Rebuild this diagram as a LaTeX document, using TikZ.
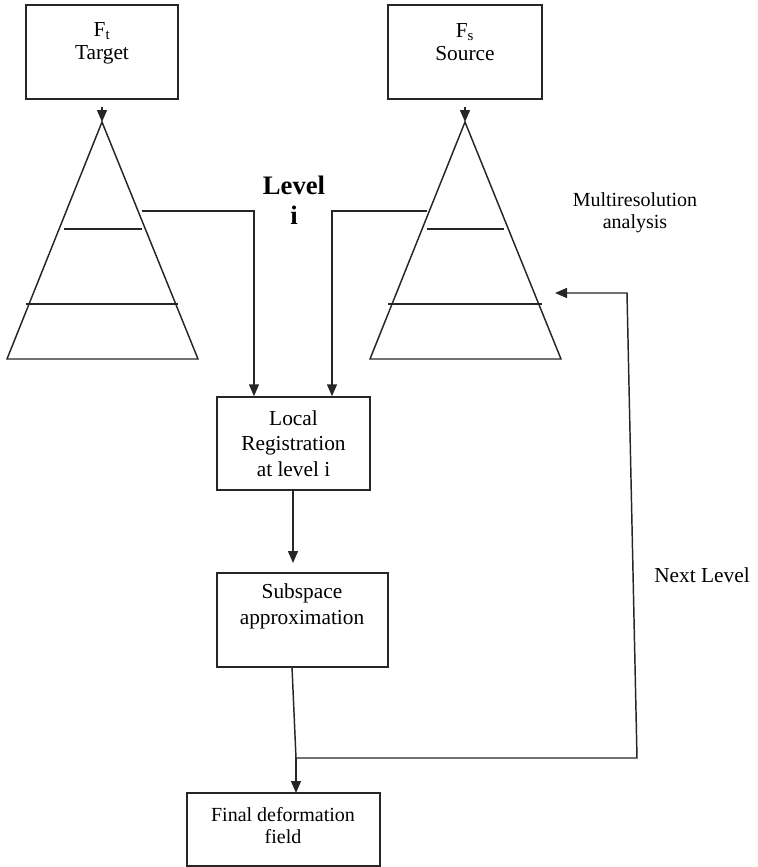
\documentclass[tikz,border=0pt]{standalone}
\usepackage{fontspec}
\setmainfont{Liberation Serif}
\usetikzlibrary{arrows.meta}
\begin{document}
\begin{tikzpicture}[x=0.75pt,y=-0.75pt,
  ln/.style={line width=1.1pt,draw=black!85},
  arr/.style={ln,-{Triangle[length=9pt,width=7.5pt]}},
  boxnode/.style={draw,ln,inner sep=0pt,align=center,font=\fontsize{16}{19}\selectfont},
  txt/.style={inner sep=0pt,align=center,font=\fontsize{16}{17.5}\selectfont}]
\useasboundingbox (0,0) rectangle (757,867);
% boxes
\node[boxnode,minimum width=114pt,minimum height=70.5pt] (tgt) at (102,52) {};
\node[txt] (tgttxt) at (102,43) {F\textsubscript{t}\\Target};
\node[boxnode,minimum width=115.5pt,minimum height=70.5pt] (src) at (465,52) {};
\node[txt] (srctxt) at (465,42) {F\textsubscript{s}\\Source};
\node[boxnode,minimum width=114.75pt,minimum height=69.75pt] (lreg) at (293.5,443.5) {Local\\Registration\\at level i};
\node[boxnode,minimum width=128.25pt,minimum height=70.5pt] (sub) at (302.5,620) {};
\node[txt,font=\fontsize{16}{19.5}\selectfont] (subtxt) at (302,606) {Subspace\\approximation};
\node[boxnode,minimum width=144.75pt,minimum height=54.75pt] (fin) at (283.5,829.5) {};
\node[txt,font=\fontsize{15}{17}\selectfont] (fintxt) at (283,825.5) {Final deformation\\field};
% labels
\node[txt,font=\fontsize{20}{22.5}\selectfont\bfseries] (lvl) at (294,200) {Level\\i};
\node[txt,font=\fontsize{15}{16.5}\selectfont] (mra) at (635,213) {Multiresolution\\analysis};
\node[txt] (nxt) at (702,575) {Next Level};
% pyramids
\coordinate (ta) at (102,122);
\coordinate (tbl) at (7,359);
\coordinate (tbr) at (198,359);
\coordinate (sa) at (465,122);
\coordinate (sbl) at (370,359);
\coordinate (sbr) at (561,359);
\draw[ln] (ta) -- (tbr) -- (tbl) -- cycle;
\draw[ln] (64,229) -- (142,229);
\draw[ln] (26,304) -- (178,304);
\draw[ln] (sa) -- (sbr) -- (sbl) -- cycle;
\draw[ln] (427,229) -- (504,229);
\draw[ln] (388,304) -- (542,304);
% arrows into apexes
\coordinate (ts) at (102,107);
\coordinate (ss) at (465,107);
\draw[arr] (ts) -- (ta);
\draw[arr] (ss) -- (sa);
% connectors to local registration
\coordinate (tl) at (142,211);
\coordinate (sl) at (427,211);
\draw[arr] (tl) -- (254,211) -- (lreg.north -| 254,0);
\draw[arr] (sl) -- (332,211) -- (lreg.north -| 332,0);
% local -> subspace
\coordinate (lb) at (293,490);
\coordinate (st) at (293,563);
\draw[arr] (lb) -- (st);
% subspace -> final, feedback
\coordinate (sb) at (292,667);
\coordinate (j) at (296,758);
\coordinate (ft) at (296,793);
\coordinate (fr) at (637,758);
\coordinate (fu) at (627,293);
\coordinate (fe) at (555,293);
\draw[ln] (sb) -- (j);
\draw[arr] (j) -- (ft);
\draw[arr] (j) -- (fr) -- (fu) -- (fe);
\end{tikzpicture}
\end{document}
